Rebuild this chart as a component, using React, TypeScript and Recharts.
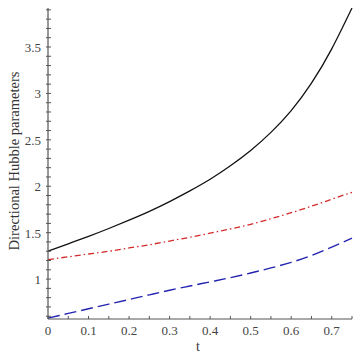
import { LineChart, Line, XAxis, YAxis } from 'recharts';

const tValues = [0, 0.05, 0.1, 0.15, 0.2, 0.25, 0.3, 0.35, 0.4, 0.45, 0.5, 0.55, 0.6, 0.65, 0.7, 0.75];
const hBlack = [1.3, 1.38, 1.46, 1.545, 1.635, 1.73, 1.835, 1.95, 2.075, 2.22, 2.385, 2.58, 2.815, 3.11, 3.48, 3.92];
const hRed = [1.21, 1.24, 1.27, 1.3, 1.335, 1.37, 1.41, 1.45, 1.495, 1.54, 1.59, 1.65, 1.715, 1.785, 1.86, 1.935];
const hBlue = [0.58, 0.63, 0.68, 0.73, 0.78, 0.83, 0.88, 0.925, 0.97, 1.015, 1.065, 1.12, 1.18, 1.255, 1.345, 1.44];

const xTicks = [0, 0.05, 0.1, 0.15, 0.2, 0.25, 0.3, 0.35, 0.4, 0.45, 0.5, 0.55, 0.6, 0.65, 0.7, 0.75];
const xLabels = ['0', '0.1', '0.2', '0.3', '0.4', '0.5', '0.6', '0.7'];
const yTicks = [
  0.6, 0.7, 0.8, 0.9, 1, 1.1, 1.2, 1.3, 1.4, 1.5, 1.6, 1.7, 1.8, 1.9, 2, 2.1, 2.2, 2.3, 2.4, 2.5,
  2.6, 2.7, 2.8, 2.9, 3, 3.1, 3.2, 3.3, 3.4, 3.5, 3.6, 3.7, 3.8, 3.9,
];
const yLabels = ['1', '1.5', '2', '2.5', '3', '3.5'];

const data = tValues.map((t, i) => ({ t, black: hBlack[i], red: hRed[i], blue: hBlue[i] }));

const FONT = '"Liberation Serif", "Times New Roman", serif';
const AXIS = '#555';

const XTick = ({ x, y, payload }: any) => {
  const label = xLabels.find((l) => Math.abs(Number(l) - payload.value) < 1e-6);
  return (
    <g>
      <line x1={x} x2={x} y1={y - 3} y2={y} stroke={AXIS} strokeWidth={1} />
      {label && (
        <text x={x} y={y + 16} textAnchor="middle" fontSize={13} fontFamily={FONT} fill="#444">
          {label}
        </text>
      )}
    </g>
  );
};

const YTick = ({ x, y, payload }: any) => {
  const label = yLabels.find((l) => Math.abs(Number(l) - payload.value) < 1e-6);
  return (
    <g>
      <line x1={x - 2} x2={x + 3} y1={y} y2={y} stroke={AXIS} strokeWidth={1} />
      {label && (
        <text x={x - 7} y={y + 5} textAnchor="end" fontSize={13} fontFamily={FONT} fill="#444">
          {label}
        </text>
      )}
    </g>
  );
};

export default function App() {
  return (
    <div style={{ position: 'absolute', left: 0, top: 0, width: 359, height: 359, background: '#fff' }}>
      <LineChart width={359} height={359} data={data} margin={{ top: 8, right: 7, bottom: 0, left: 0 }}>
        <XAxis dataKey="t" type="number" domain={[0, 0.75]} ticks={xTicks} interval={0}
          height={40} tickSize={0} tickMargin={0} tickLine={false}
          axisLine={{ stroke: AXIS, strokeWidth: 1.2 }} tick={<XTick />}
          label={{
            content: ({ viewBox }: any) => (
              <text x={viewBox.x + viewBox.width / 2 - 2} y={351} textAnchor="middle"
                fontSize={14} fontFamily={FONT} fill="#333">t</text>
            ),
          }} />
        <YAxis type="number" domain={[0.57, 3.92]} ticks={yTicks} interval={0} allowDataOverflow
          width={48} tickSize={0} tickMargin={0} tickLine={false}
          axisLine={{ stroke: AXIS, strokeWidth: 1.2 }} tick={<YTick />}
          label={{
            content: () => (
              <text x={0} y={0} transform="translate(19,161) rotate(-90)" textAnchor="middle"
                fontSize={14.5} fontFamily={FONT} fill="#333">Directional Hubble parameters</text>
            ),
          }} />
        <Line type="natural" dataKey="black" stroke="#111" strokeWidth={1.3} dot={false}
          isAnimationActive={false} />
        <Line type="natural" dataKey="red" stroke="#d42a2a" strokeWidth={1.3} dot={false}
          strokeDasharray="6 3 1.5 3" isAnimationActive={false} />
        <Line type="natural" dataKey="blue" stroke="#2424b0" strokeWidth={1.4} dot={false}
          strokeDasharray="12 5" isAnimationActive={false} />
      </LineChart>
    </div>
  );
}
